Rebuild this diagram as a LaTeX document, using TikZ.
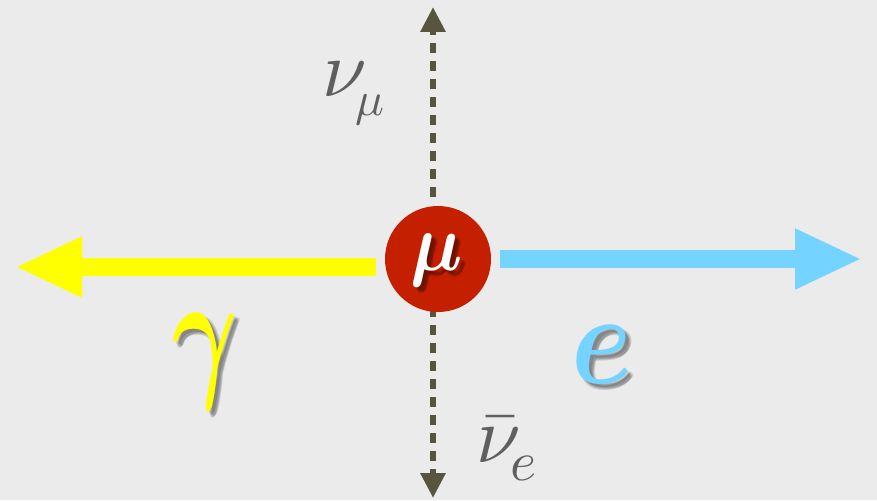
\documentclass[tikz,border=0pt]{standalone}
\usepackage{graphicx}
\usetikzlibrary{arrows.meta}
\definecolor{bg}{RGB}{235,235,235}
\definecolor{mured}{RGB}{196,32,0}
\definecolor{ecyan}{RGB}{117,212,255}
\definecolor{gyel}{RGB}{255,255,0}
\definecolor{nuolive}{RGB}{88,85,63}
\definecolor{lbl}{RGB}{95,95,95}
\newcommand\softshadow[2]{% #1 position, #2 content
  \foreach \dx/\dy in {3/3,5/5,4/6,6/4}
    \node[txt, text=black, opacity=0.13, xshift=\dx pt, yshift=-\dy pt] at #1 {#2};}
\begin{document}
\begin{tikzpicture}[x=1pt,y=-1pt,
  txt/.style={inner sep=0pt, anchor=base west},
  bigarrow/.style={line width=18pt, -{Triangle[width=56pt,length=67pt]}},
  nuline/.style={line width=6pt, nuolive, dash pattern=on 10pt off 8pt, -{Triangle[width=24pt,length=25pt]}}]
\fill[bg] (0,0) rectangle (877,500);
\useasboundingbox (0,0) rectangle (877,500);

% neutrino lines
\coordinate (nutopstart) at (433,197);
\coordinate (nutop) at (433,7);
\coordinate (nubotstart) at (433,307);
\coordinate (nubot) at (433,498);
\draw[nuline] (nutopstart) -- (nutop);
\draw[nuline] (nubotstart) -- (nubot);

% muon
\node[circle, fill=mured, minimum size=106pt, inner sep=0pt] (mu) at (438,259) {};
\softshadow{(410,270)}{\scalebox{7.4}[8.2]{\boldmath$\mu$}}
\node[txt, text=white] (mulabel) at (410,270) {\scalebox{7.4}[8.2]{\boldmath$\mu$}};

% photon arrow
\coordinate (gstart) at (376,267);
\coordinate (gend) at (15,267);
\draw[bigarrow, gyel] (gstart) -- (gend);

% electron arrow
\coordinate (estart) at (500,259);
\coordinate (eend) at (862,259);
\draw[bigarrow, ecyan] (estart) -- (eend);

% labels
\softshadow{(172,380)}{\scalebox{10}[15]{\boldmath$\gamma$}}
\node[txt, text=gyel] (gamma) at (172,380) {\scalebox{10}[15]{\boldmath$\gamma$}};
\softshadow{(571,383)}{\scalebox{11}[13]{\boldmath$e$}}
\node[txt, text=ecyan] (elec) at (571,383) {\scalebox{11}[13]{\boldmath$e$}};

\node[txt, text=lbl] (numu) at (322,97) {\scalebox{8}{$\nu$}};
\node[txt, text=lbl] (numusub) at (355,115) {\scalebox{4.8}{$\mu$}};

\node[txt, text=lbl] (nue) at (476,462) {\scalebox{8}{$\bar\nu$}};
\node[txt, text=lbl] (nuesub) at (510,480) {\scalebox{5.6}{$e$}};
\end{tikzpicture}
\end{document}
